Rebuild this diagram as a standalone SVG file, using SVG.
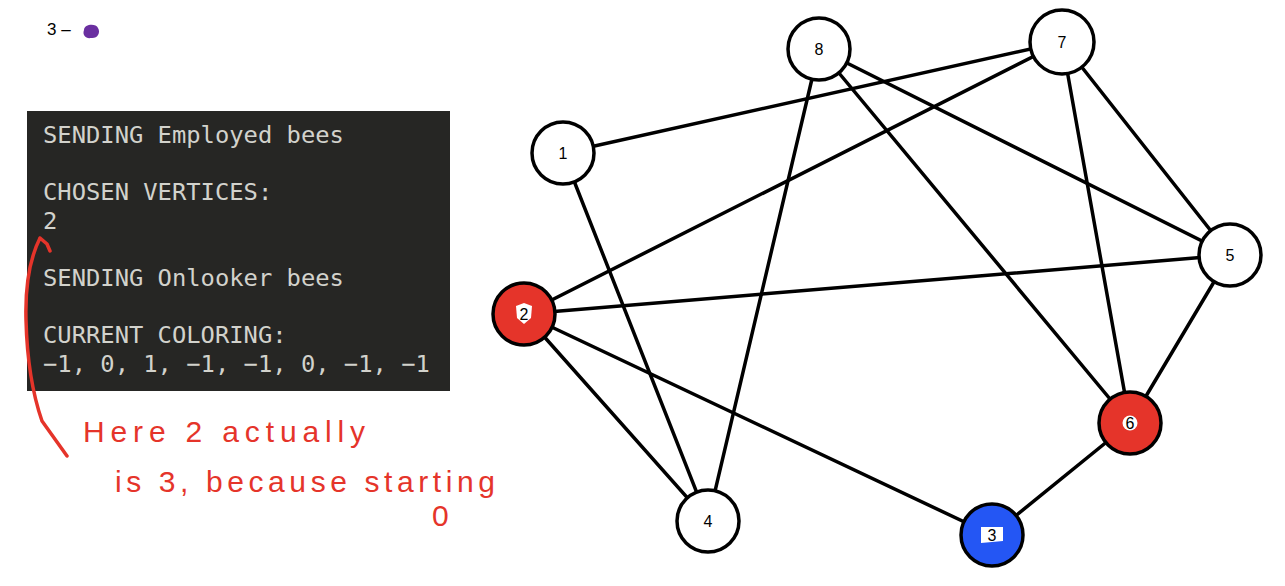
<svg xmlns="http://www.w3.org/2000/svg" width="1285" height="586" viewBox="0 0 1285 586">
<style>
.edge{stroke:#000;stroke-width:3.5;stroke-linecap:round;fill:none}
.node{stroke:#000;stroke-width:3.5;fill:#fff}
.red{fill:#e5342a}
.blue{fill:#2456f4}
.lbl{font-family:"Liberation Sans",Arial,sans-serif;font-size:16px;fill:#000;text-anchor:middle}
.term{font-family:"DejaVu Sans Mono","Liberation Mono",monospace;font-size:23.8px;fill:#d2d2cc}
.hand{font-family:"Liberation Sans",Arial,sans-serif;font-size:30px;fill:#e5342a}
.ink{stroke:#e5342a;stroke-width:3.5;fill:none;stroke-linecap:round;stroke-linejoin:round}
</style>
<rect width="1285" height="586" fill="#fff"/>
<g id="legend">
<text x="47" y="35" style="font-family:'Liberation Sans',Arial,sans-serif;font-size:17px;fill:#000">3 –</text>
<path d="M84,30 C84,24 96,23 98,28 C101,33 97,39 91,38 C86,39 82,35 84,30 Z" fill="#6a2fa0"/>
</g>
<g id="terminal">
<rect x="27" y="111" width="423" height="280" fill="#262624"/>
<text class="term" x="43" y="143">SENDING Employed bees</text>
<text class="term" x="43" y="200">CHOSEN VERTICES:</text>
<text class="term" x="43" y="229">2</text>
<text class="term" x="43" y="286">SENDING Onlooker bees</text>
<text class="term" x="43" y="343">CURRENT COLORING:</text>
<text class="term" x="43" y="372">−1, 0, 1, −1, −1, 0, −1, −1</text>
</g>
<g id="annotation">
<path class="ink" d="M67,456 L42,421 C33,395 27,360 26,320 C25,285 30,258 40,238 M40,238 L47,244 L50,251"/>
<text class="hand" x="83" y="442" textLength="282" lengthAdjust="spacing">Here 2 actually</text>
<text class="hand" x="115" y="492" textLength="380" lengthAdjust="spacing">is 3, because starting</text>
<text class="hand" x="432" y="526">0</text>
</g>
<g id="edges">
<line class="edge" x1="563" y1="153" x2="1062" y2="42"/>
<line class="edge" x1="563" y1="153" x2="708" y2="521"/>
<line class="edge" x1="819" y1="49" x2="708" y2="521"/>
<line class="edge" x1="819" y1="49" x2="1230" y2="255"/>
<line class="edge" x1="819" y1="49" x2="1130" y2="423"/>
<line class="edge" x1="1062" y1="42" x2="524" y2="314"/>
<line class="edge" x1="1062" y1="42" x2="1230" y2="255"/>
<line class="edge" x1="1062" y1="42" x2="1130" y2="423"/>
<line class="edge" x1="1230" y1="255" x2="524" y2="314"/>
<line class="edge" x1="1230" y1="255" x2="1130" y2="423"/>
<line class="edge" x1="524" y1="314" x2="708" y2="521"/>
<line class="edge" x1="524" y1="314" x2="992" y2="535"/>
<line class="edge" x1="1130" y1="423" x2="992" y2="535"/>
</g>
<g id="node-1"><circle class="node" cx="563" cy="153" r="31"/><text class="lbl" x="563" y="159">1</text></g>
<g id="node-8"><circle class="node" cx="819" cy="49" r="31"/><text class="lbl" x="819" y="55">8</text></g>
<g id="node-7"><circle class="node" cx="1062" cy="42" r="32"/><text class="lbl" x="1062" y="48">7</text></g>
<g id="node-5"><circle class="node" cx="1230" cy="255" r="31"/><text class="lbl" x="1230" y="261">5</text></g>
<g id="node-4"><circle class="node" cx="708" cy="521" r="31"/><text class="lbl" x="708" y="527">4</text></g>
<g id="node-2"><circle class="node red" cx="524" cy="314" r="31"/><path d="M516,306 L524,303 L532,306 L531,318 L524,324 L517,318 Z" fill="#fff"/><text class="lbl" x="524" y="320">2</text></g>
<g id="node-6"><circle class="node red" cx="1130" cy="423" r="31"/><circle cx="1130" cy="423" r="7.5" fill="#fff"/><text class="lbl" x="1130" y="429">6</text></g>
<g id="node-3"><circle class="node blue" cx="992" cy="535" r="31"/><path d="M981,527 L1003,527 L1003,541 L981,543 Z" fill="#fff"/><text class="lbl" x="992" y="541">3</text></g>
</svg>
